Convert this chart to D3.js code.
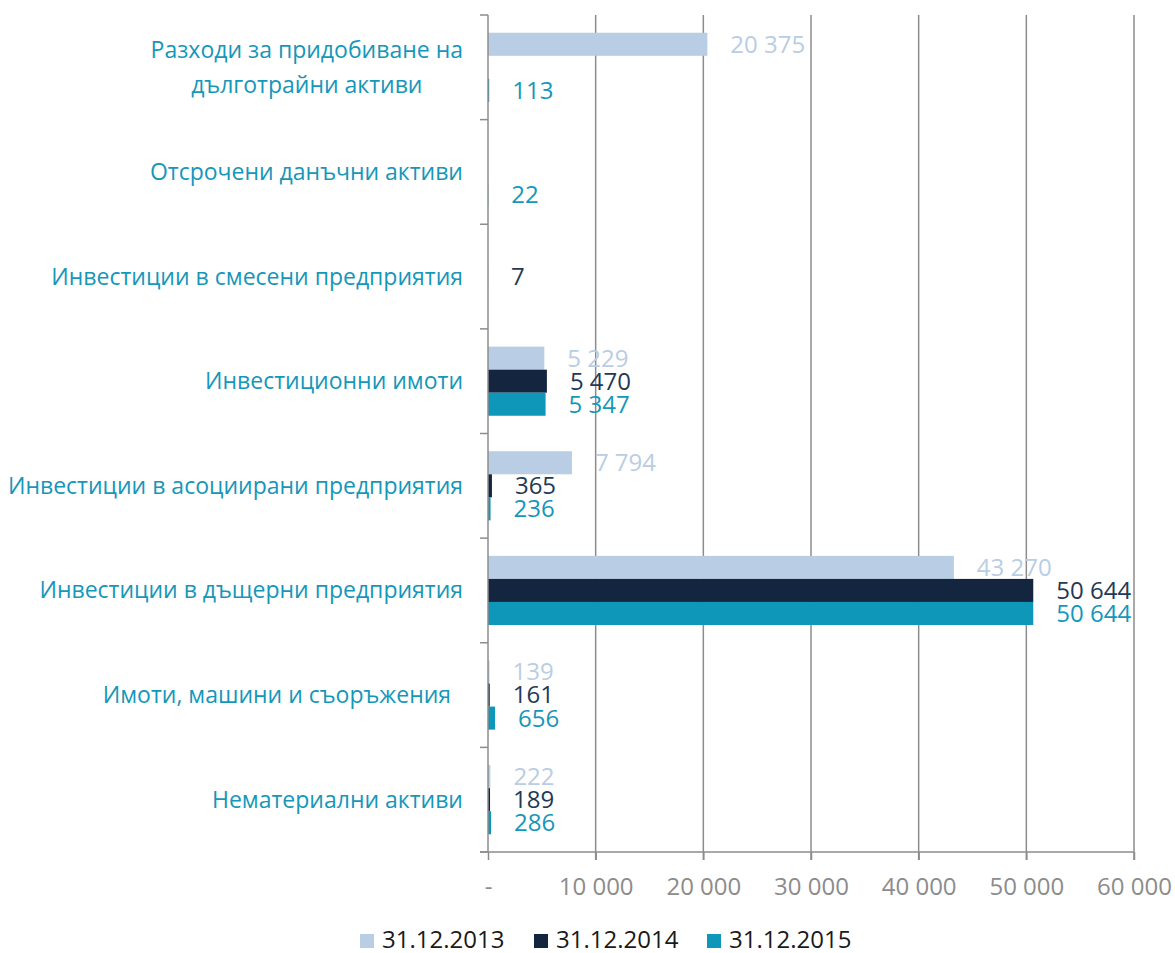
<!DOCTYPE html>
<html>
<head>
<meta charset="utf-8">
<script src="https://cdn.jsdelivr.net/npm/d3@7"></script>
<style>
  body { margin: 0; background: #fff; }
  text { font-family: "Open Sans", sans-serif; }
</style>
</head>
<body>
<svg id="chart"></svg>
<script>
// data
var categories = [
  ["Разходи за придобиване на", "дълготрайни активи"],
  ["Отсрочени данъчни активи"],
  ["Инвестиции в смесени предприятия"],
  ["Инвестиционни имоти"],
  ["Инвестиции в асоциирани предприятия"],
  ["Инвестиции в дъщерни предприятия"],
  ["Имоти, машини и съоръжения\u00A0\u00A0"],
  ["Нематериални активи"]
];
var seriesNames = ["31.12.2013", "31.12.2014", "31.12.2015"];
var v2013 = [20375, null, null, 5229, 7794, 43270, 139, 222];
var v2014 = [null, null, 7, 5470, 365, 50644, 161, 189];
var v2015 = [113, 22, null, 5347, 236, 50644, 656, 286];
var xTicks = [0, 10000, 20000, 30000, 40000, 50000, 60000];

var barColors = ["#b9cde4", "#13253f", "#0e97b8"];
var labelColors = ["#b9cde4", "#233957", "#1597ba"];

var svg = d3.select("#chart")
            .attr("width", 1175)
            .attr("height", 953);

var pLeft = 488, pRight = 1134, pTop = 15, pBottom = 852;

var x = d3.scaleLinear().domain([0, 60000]).range([pLeft, pRight]);
var y = d3.scaleBand().domain(d3.range(categories.length)).range([pTop, pBottom]);
var inner = d3.scaleBand().domain([0, 1, 2])
              .range([0, y.bandwidth()]).paddingOuter(0.77).paddingInner(0);

var fmt = function(d) {
  if (d === 0) return "-";
  return d3.format(",")(d).replace(/,/g, " ");
};

// grid lines
svg.append("g").selectAll("line")
  .data(xTicks.slice(1))
  .join("line")
  .attr("x1", d => x(d)).attr("x2", d => x(d))
  .attr("y1", pTop).attr("y2", pBottom + 8)
  .attr("stroke", "#8c8c8c")
  .attr("stroke-width", 1.5);

// bottom axis
var xAxis = svg.append("g").attr("transform", "translate(0," + pBottom + ")")
  .call(d3.axisBottom(x).tickValues(xTicks).tickFormat(fmt).tickSize(8).tickPadding(18));
xAxis.select(".domain").attr("stroke", "#8c8c8c").attr("stroke-width", 1.5)
  .attr("d", "M" + (pLeft - 8) + ",0H" + pRight);
xAxis.selectAll(".tick line").attr("stroke", "#8c8c8c").attr("stroke-width", 1.5);
xAxis.selectAll(".tick text").attr("fill", "#8c8c8c").style("font-size", "24px")
  .style("font-family", "Open Sans, sans-serif");

// bars
var series = [v2013, v2014, v2015];
series.forEach(function(vals, s) {
  var g = svg.append("g");
  var pts = vals.map((v, i) => ({ v: v, i: i })).filter(d => d.v !== null);
  g.selectAll("rect")
    .data(pts)
    .join("rect")
    .attr("x", x(0))
    .attr("y", d => y(d.i) + inner(s))
    .attr("width", d => x(d.v) - x(0))
    .attr("height", inner.bandwidth())
    .attr("fill", barColors[s]);
  g.selectAll("text")
    .data(pts)
    .join("text")
    .attr("x", d => x(d.v) + 23)
    .attr("y", d => y(d.i) + inner(s) + inner.bandwidth() / 2)
    .attr("dy", "0.35em")
    .attr("fill", labelColors[s])
    .style("font-size", "24px")
    .text(d => fmt(d.v));
});

// left axis
var yAxis = svg.append("g").attr("transform", "translate(" + pLeft + ",0)");
yAxis.append("line")
  .attr("x1", 0).attr("x2", 0).attr("y1", pTop).attr("y2", pBottom)
  .attr("stroke", "#8c8c8c").attr("stroke-width", 1.5);
yAxis.selectAll("line.tk")
  .data(d3.range(categories.length + 1))
  .join("line")
  .attr("class", "tk")
  .attr("x1", -8).attr("x2", 0)
  .attr("y1", d => pTop + d * y.step()).attr("y2", d => pTop + d * y.step())
  .attr("stroke", "#8c8c8c").attr("stroke-width", 1.5);

// category labels
var cl = svg.append("g");
categories.forEach(function(lines, i) {
  var cy = y(i) + y.bandwidth() / 2;
  var lh = 35;
  var t = cl.append("text")
    .attr("fill", "#1597ba")
    .style("font-size", "23px")
    .style("white-space", "pre");
  lines.forEach(function(ln, k) {
    t.append("tspan")
      .attr("y", cy + (k - (lines.length - 1) / 2) * lh)
      .attr("dy", "0.35em")
      .text(ln);
  });
  // right-align block, centre lines within it
  var w = d3.max(t.selectAll("tspan").nodes(), n => n.getComputedTextLength());
  var rightEdge = pLeft - 25;
  t.selectAll("tspan")
    .attr("x", rightEdge - w / 2)
    .attr("text-anchor", "middle");
});

// legend
var legX = [360, 534, 707];
var leg = svg.append("g");
seriesNames.forEach(function(n, s) {
  leg.append("rect")
    .attr("x", legX[s]).attr("y", 934)
    .attr("width", 14).attr("height", 14)
    .attr("fill", barColors[s]);
  leg.append("text")
    .attr("x", legX[s] + 22).attr("y", 940)
    .attr("dy", "0.35em")
    .attr("fill", "#1a1a1a")
    .style("font-size", "24px")
    .text(n);
});
</script>
</body>
</html>
